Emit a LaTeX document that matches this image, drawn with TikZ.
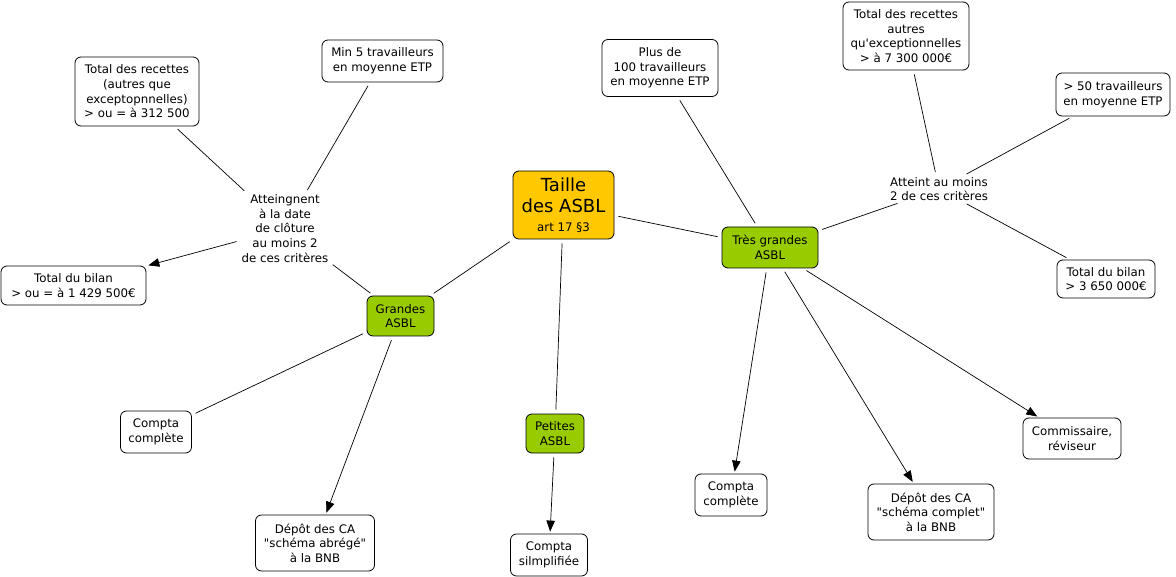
\documentclass[tikz,border=0pt]{standalone}
\usepackage{fontspec}
\newfontfamily\dv{DejaVu Sans}
\usetikzlibrary{arrows.meta}
\definecolor{gold}{HTML}{FFC800}
\definecolor{leaf}{HTML}{99CC00}
\begin{document}
\begin{tikzpicture}[x=1pt,y=-1pt,
  box/.style={draw=black, line width=0.8pt, rounded corners=6pt, fill=white, align=center, inner sep=0pt,
    font=\dv\fontsize{11.8}{14.6}\selectfont},
  gbox/.style={box, fill=leaf},
  txt/.style={align=center, inner sep=1pt, font=\dv\fontsize{11.8}{14.6}\selectfont},
  conn/.style={draw=black, line width=0.7pt, shorten >=4pt, shorten <=4pt},
  arr/.style={conn, -{Triangle[length=11pt,width=8.5pt]}, shorten >=2pt}]
\useasboundingbox (0,0) rectangle (1176,577);
\fill[white] (0,0) rectangle (1176,577);

\node[box, fill=gold, minimum width=101pt, minimum height=68pt, font=\dv\fontsize{18}{21.6}\selectfont] (taille) at (563.5,205)
  {Taille\\des ASBL\\[-3pt]{\fontsize{11.8}{14}\selectfont art 17 §3}};

\node[box, minimum width=121pt, minimum height=42pt] (min5) at (382.5,61) {Min 5 travailleurs\\en moyenne ETP};
\node[box, minimum width=124pt, minimum height=69pt] (recL) at (137,91.5) {Total des recettes\\(autres que\\exceptopnnelles)\\> ou = à 312 500};
\node[txt] (att) at (285,228.5) {Atteingnent\\à la date\\de clôture\\au moins 2\\de ces critères};
\node[box, minimum width=145pt, minimum height=39pt] (bilL) at (73.5,285.5) {Total du bilan\\> ou = à 1 429 500€};
\node[gbox, minimum width=67pt, minimum height=40pt] (grandes) at (400.5,316) {Grandes\\ASBL};
\node[box, minimum width=71pt, minimum height=42pt] (comptaL) at (156,432) {Compta\\complète};
\node[box, minimum width=119pt, minimum height=56pt] (depotA) at (315,543) {Dépôt des CA\\"schéma abrégé"\\à la BNB};
\node[gbox, minimum width=58pt, minimum height=39pt] (petites) at (555,433.5) {Petites\\ASBL};
\node[box, minimum width=77pt, minimum height=42pt] (comptaS) at (549,555) {Compta\\silmplifiée};
\node[box, minimum width=116pt, minimum height=57pt] (plus100) at (660,68) {Plus de\\100 travailleurs\\en moyenne ETP};
\node[gbox, minimum width=96pt, minimum height=41pt] (tres) at (770,247.5) {Très grandes\\ASBL};
\node[box, minimum width=126pt, minimum height=68pt] (recR) at (906,36) {Total des recettes\\autres\\qu'exceptionnelles\\> à 7 300 000€};
\node[box, minimum width=114pt, minimum height=43pt] (plus50) at (1113,94.5) {> 50 travailleurs\\en moyenne ETP};
\node[txt] (attR) at (939,189) {Atteint au moins\\2 de ces critères};
\node[box, minimum width=98pt, minimum height=38pt] (bilR) at (1106,279) {Total du bilan\\> 3 650 000€};
\node[box, minimum width=72pt, minimum height=42pt] (comptaR) at (731,495) {Compta\\complète};
\node[box, minimum width=126pt, minimum height=56pt] (depotC) at (931,512) {Dépôt des CA\\"schéma complet"\\à la BNB};
\node[box, minimum width=98pt, minimum height=41pt] (commis) at (1072,438.5) {Commissaire,\\réviseur};

\draw[conn] (taille) -- (grandes);
\draw[conn] (taille) -- (petites);
\draw[conn] (taille) -- (tres);
\draw[conn] (grandes) -- (att);
\draw[conn] (att) -- (recL);
\draw[conn] (att) -- (min5);
\draw[arr] (att) -- (bilL);
\draw[conn] (grandes) -- (comptaL);
\draw[arr] (grandes) -- (depotA);
\draw[arr] (petites) -- (comptaS);
\draw[conn] (tres) -- (plus100);
\draw[conn] (tres) -- (attR);
\draw[conn] (attR) -- (recR);
\draw[conn] (attR) -- (plus50);
\draw[conn] (attR) -- (bilR);
\draw[arr] (tres) -- (comptaR);
\draw[arr] (tres) -- (depotC);
\draw[arr] (tres) -- (commis);
\end{tikzpicture}
\end{document}
